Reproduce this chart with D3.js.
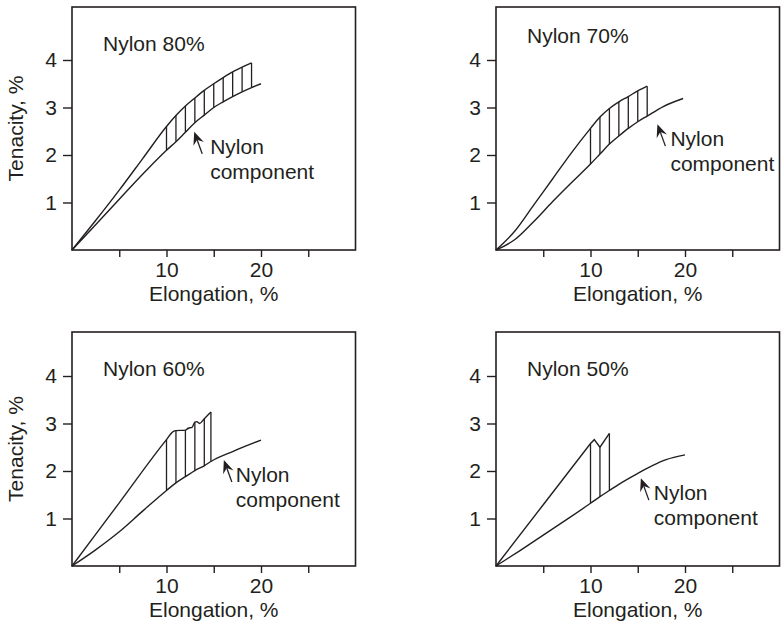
<!DOCTYPE html>
<html>
<head>
<meta charset="utf-8">
<script src="https://cdn.jsdelivr.net/npm/d3@7"></script>
<style>
  body { margin: 0; background: #fff; }
  svg { display: block; font-family: "Liberation Sans", Arial, Helvetica, sans-serif; }
</style>
</head>
<body>
<div id="chart"></div>
<script>
// axis ticks
const xTicks = [5, 10, 15, 20, 25];
const xTickLabels = [10, 20];
const yTicks = [1, 2, 3, 4];

// panel titles
const titles = ["Nylon 80%", "Nylon 70%", "Nylon 60%", "Nylon 50%"];

// blend (upper) curves: [elongation %, tenacity]
const blend80 = [[0, 0], [2.5, 0.62], [5, 1.26], [7.5, 1.93], [10, 2.6], [11, 2.83], [12, 3.03], [13, 3.2], [14, 3.36], [15, 3.5], [16, 3.63], [17, 3.75], [18, 3.85], [19, 3.94]];
const blend70 = [[0, 0], [2, 0.4], [4, 0.95], [6, 1.5], [8, 2.05], [10, 2.56], [11, 2.8], [12, 2.98], [13, 3.12], [14, 3.23], [15, 3.35], [16, 3.45]];
const blend60 = [[0, 0], [5, 1.33], [10, 2.66], [10.7, 2.83], [11, 2.85], [12, 2.86], [12.3, 2.9], [12.7, 2.92], [13, 3.03], [13.2, 3.04], [13.5, 3.0], [14, 3.1], [14.7, 3.24]];
const blend50 = [[0, 0], [5, 1.29], [10, 2.58], [10.4, 2.66], [11, 2.5], [12, 2.79]];

// nylon component (lower) curves
const nylon80 = [[0, 0], [2.5, 0.53], [5, 1.07], [7.5, 1.6], [10, 2.1], [11, 2.28], [12, 2.48], [13, 2.68], [14, 2.84], [15, 3.0], [16, 3.12], [17, 3.23], [18, 3.33], [19, 3.42], [20, 3.5]];
const nylon70 = [[0, 0], [2, 0.22], [4, 0.6], [6, 1.02], [8, 1.42], [10, 1.81], [11, 2.02], [12, 2.23], [13, 2.4], [14, 2.56], [15, 2.7], [16, 2.82], [17.7, 3.02], [19.8, 3.19]];
const nylon60 = [[0, 0], [2.5, 0.34], [5, 0.72], [7.5, 1.16], [10, 1.59], [11, 1.75], [12, 1.88], [13, 2.01], [14, 2.11], [14.7, 2.2], [17, 2.41], [20, 2.65]];
const nylon50 = [[0, 0], [2.5, 0.32], [5, 0.65], [7.5, 0.98], [10, 1.32], [11, 1.46], [12, 1.59], [13, 1.72], [15, 1.95], [16.6, 2.12], [18, 2.24], [20, 2.34]];

// hatch positions (elongation)
const hatch80 = [10, 11, 12, 13, 14, 15, 16, 17, 18, 19];
const hatch70 = [10, 11, 12, 13, 14, 15, 16];
const hatch60 = [10, 11, 12, 13, 14, 14.7];
const hatch50 = [10, 11, 12];

// "Nylon component" arrow tips
const notes = [[12.93, 2.49], [17.08, 2.65], [16.07, 2.23], [15.33, 1.85]];

const blends = [blend80, blend70, blend60, blend50];
const nylons = [nylon80, nylon70, nylon60, nylon50];
const hatches = [hatch80, hatch70, hatch60, hatch50];

// layout per panel
const layout = [
  { left: 72,  top: 7,   bottom: 250, titleDy: 44, yLabel: true,  smooth: true,  noteDx: 16 },
  { left: 496, top: 7,   bottom: 250, titleDy: 36, yLabel: false, smooth: true,  noteDx: 13 },
  { left: 72,  top: 332, bottom: 566, titleDy: 44, yLabel: true,  smooth: true,  noteDx: 12 },
  { left: 496, top: 332, bottom: 566, titleDy: 44, yLabel: false, smooth: false, noteDx: 13 }
];

const pxPerUnitY = 47.5;
const boxW = 283.5;
const ink = "#231f20";
const fontSize = 21;

const svg = d3.select("#chart").append("svg")
  .attr("width", 782)
  .attr("height", 623);

layout.forEach((p, i) => {
  let x = d3.scaleLinear().domain([0, 30]).range([p.left, p.left + boxW]);
  let yMax = (p.bottom - p.top) / pxPerUnitY;
  let y = d3.scaleLinear().domain([0, yMax]).range([p.bottom, p.top]);
  const g = svg.append("g");

  // frame
  g.append("rect")
    .attr("x", p.left).attr("y", p.top)
    .attr("width", boxW).attr("height", p.bottom - p.top)
    .attr("fill", "none").attr("stroke", ink).attr("stroke-width", 1.6);

  // axes
  let xAxis = d3.axisBottom(x).tickValues(xTicks).tickSize(7).tickPadding(5)
    .tickFormat(d => xTickLabels.includes(d) ? d : "");
  const gx = g.append("g").attr("transform", `translate(0,${p.bottom})`).call(xAxis);
  let yAxis = d3.axisLeft(y).tickValues(yTicks).tickSize(9).tickPadding(6).tickFormat(d3.format("d"));
  const gy = g.append("g").attr("transform", `translate(${p.left},0)`).call(yAxis);
  [gx, gy].forEach(a => {
    a.select(".domain").remove();
    a.attr("font-size", fontSize).attr("font-family", null);
    a.selectAll("line").attr("stroke", ink).attr("stroke-width", 1.4);
    a.selectAll("text").attr("fill", ink);
  });

  // axis titles
  g.append("text")
    .attr("x", p.left + boxW / 2).attr("y", p.bottom + 51)
    .attr("text-anchor", "middle").attr("font-size", fontSize).attr("fill", ink)
    .text("Elongation, %");
  if (p.yLabel) {
    g.append("text")
      .attr("transform", `translate(23,${(p.top + p.bottom) / 2}) rotate(-90)`)
      .attr("text-anchor", "middle").attr("font-size", fontSize).attr("fill", ink)
      .text("Tenacity, %");
  }

  // panel title
  g.append("text")
    .attr("x", p.left + 31).attr("y", p.top + p.titleDy)
    .attr("font-size", fontSize).attr("fill", ink)
    .text(titles[i]);

  // curves
  const smoothLine = d3.line().x(d => x(d[0])).y(d => y(d[1])).curve(d3.curveMonotoneX);
  const upperLine = d3.line().x(d => x(d[0])).y(d => y(d[1]))
    .curve(p.smooth ? d3.curveMonotoneX : d3.curveLinear);

  g.append("path").attr("d", upperLine(blends[i]))
    .attr("fill", "none").attr("stroke", ink).attr("stroke-width", 1.4);
  g.append("path").attr("d", smoothLine(nylons[i]))
    .attr("fill", "none").attr("stroke", ink).attr("stroke-width", 1.4);

  // hatching between curves
  g.selectAll(".hatch")
    .data(hatches[i])
    .enter()
    .append("line")
    .attr("x1", d => x(d)).attr("x2", d => x(d))
    .attr("y1", d => y(blends[i].find(v => v[0] === d)[1]))
    .attr("y2", d => y(nylons[i].find(v => v[0] === d)[1]))
    .attr("stroke", ink).attr("stroke-width", 1.3);

  // annotation arrow + label
  let tipX = x(notes[i][0]), tipY = y(notes[i][1]);
  let tailX = tipX + 8, tailY = tipY + 22;
  let dx = tipX - tailX, dy = tipY - tailY;
  let len = Math.sqrt(dx * dx + dy * dy);
  let ux = dx / len, uy = dy / len;
  let px = -uy, py = ux;
  let headL = 13, headW = 5.5, notch = 8.5;
  let bx = tipX - ux * headL, by = tipY - uy * headL;
  let nx = tipX - ux * notch, ny = tipY - uy * notch;
  g.append("line")
    .attr("x1", tailX).attr("y1", tailY).attr("x2", nx).attr("y2", ny)
    .attr("stroke", ink).attr("stroke-width", 1.3);
  g.append("path")
    .attr("d", `M${tipX},${tipY}L${bx + px * headW},${by + py * headW}L${nx},${ny}L${bx - px * headW},${by - py * headW}Z`)
    .attr("fill", ink);
  g.append("text")
    .attr("x", tipX + p.noteDx).attr("y", tipY + 22)
    .attr("font-size", fontSize).attr("fill", ink)
    .text("Nylon");
  g.append("text")
    .attr("x", tipX + p.noteDx).attr("y", tipY + 47)
    .attr("font-size", fontSize).attr("fill", ink)
    .text("component");
});
</script>
</body>
</html>
